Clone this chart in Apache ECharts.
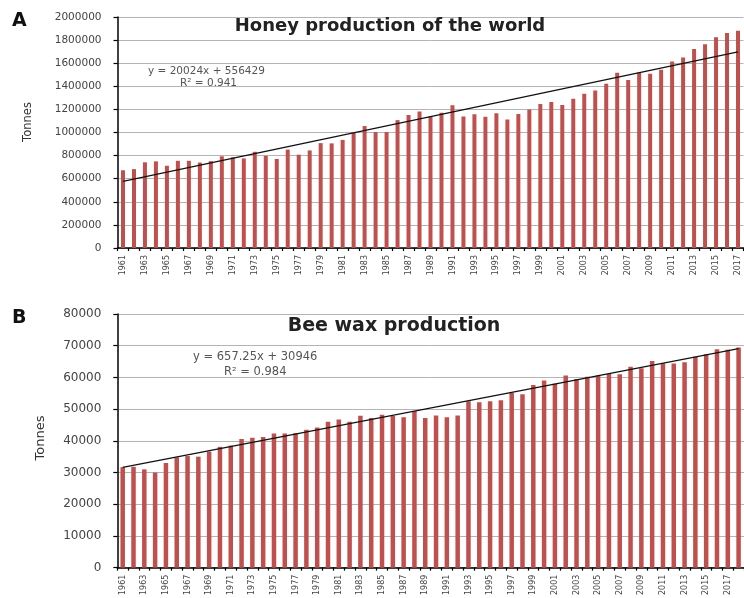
<!DOCTYPE html>
<html>
<head>
<meta charset="utf-8">
<script src="https://cdn.jsdelivr.net/npm/echarts@6/dist/echarts.min.js"></script>
<style>
html,body{margin:0;padding:0;background:#fff;}
#c{width:744px;height:598px;}
</style>
</head>
<body>
<div id="c"></div>
<script>
const honeyYears = ['1961','1962','1963','1964','1965','1966','1967','1968','1969','1970',
'1971','1972','1973','1974','1975','1976','1977','1978','1979','1980',
'1981','1982','1983','1984','1985','1986','1987','1988','1989','1990',
'1991','1992','1993','1994','1995','1996','1997','1998','1999','2000',
'2001','2002','2003','2004','2005','2006','2007','2008','2009','2010',
'2011','2012','2013','2014','2015','2016','2017'];
const waxYears = ['1961','1962','1963','1964','1965','1966','1967','1968','1969','1970',
'1971','1972','1973','1974','1975','1976','1977','1978','1979','1980',
'1981','1982','1983','1984','1985','1986','1987','1988','1989','1990',
'1991','1992','1993','1994','1995','1996','1997','1998','1999','2000',
'2001','2002','2003','2004','2005','2006','2007','2008','2009','2010',
'2011','2012','2013','2014','2015','2016','2017','2018'];
const honeyValues = [673000,683000,742000,750000,712000,755000,755000,740000,752000,794000,
785000,776000,833000,798000,771000,852000,808000,845000,908000,906000,
936000,998000,1056000,1004000,1004000,1107000,1151000,1181000,1139000,1171000,
1237000,1138000,1158000,1136000,1166000,1112000,1160000,1199000,1247000,1264000,
1238000,1293000,1336000,1363000,1422000,1518000,1454000,1518000,1509000,1544000,
1615000,1649000,1722000,1765000,1824000,1861000,1882000];
const waxValues = [31700,31800,31000,30000,33000,34800,35200,35000,36600,38100,
38500,40600,41000,41200,42300,42300,42400,43500,44200,46000,
46700,46000,47900,47200,48200,47800,47400,49400,47200,48000,
47400,48000,52500,52200,52500,52800,55100,54700,57600,59000,
58000,60600,59500,60200,60600,61100,61000,63400,62900,65200,
64500,64400,64800,66500,67300,68900,68700,69400];
// trend line end values (first and last category)
const honeyTrend = [576453, 1697773];
const waxTrend = [31603, 69067];
const honeyTicks = {min:0, max:2000000, interval:200000};
const waxTicks = {min:0, max:80000, interval:10000};

function trendData(cats, ends){
  const d = cats.map(() => null);
  d[0] = ends[0];
  d[cats.length-1] = ends[1];
  return d;
}

const chart = echarts.init(document.getElementById('c'));
const font = 'DejaVu Sans';
const barColor = '#c0504d';
function xAx(idx, cats){
  return {
    type:'category', gridIndex:idx, data:cats, boundaryGap:true,
    axisLine:{lineStyle:{color:'#000', width:1.5}},
    axisTick:{show:true, interval:0, length:3, lineStyle:{color:'#000', width:1.2}},
    axisLabel:{interval:1, rotate:90, fontSize:8, fontFamily:font, color:'#444', margin:7},
    splitLine:{show:false}
  };
}
function yAx(idx, t, fs, name){
  return {
    type:'value', gridIndex:idx, min:t.min, max:t.max, interval:t.interval,
    axisLine:{show:true, lineStyle:{color:'#000', width:1.5}},
    axisTick:{show:true, length:4, lineStyle:{color:'#000', width:1.2}},
    axisLabel:{fontSize:fs, fontFamily:font, color:'#444', margin:16, formatter:v=>String(v)},
    splitLine:{lineStyle:{color:'#b4b4b4', width:1}}
  };
}
chart.setOption({
  animation:false,
  backgroundColor:'#fff',
  grid:[
    {left:117.5, top:17, right:0.5, bottom:350},
    {left:117.3, top:314, right:-5, bottom:29}
  ],
  xAxis:[xAx(0, honeyYears), xAx(1, waxYears)],
  yAxis:[yAx(0, honeyTicks, 10.5), yAx(1, waxTicks, 12)],
  series:[
    {type:'bar', xAxisIndex:0, yAxisIndex:0, data:honeyValues, barWidth:4, itemStyle:{color:barColor}},
    {type:'line', xAxisIndex:0, yAxisIndex:0, data:trendData(honeyYears, honeyTrend), connectNulls:true, symbol:'none', lineStyle:{color:'#111', width:1.3}, z:5},
    {type:'bar', xAxisIndex:1, yAxisIndex:1, data:waxValues, barWidth:4.5, itemStyle:{color:barColor}},
    {type:'line', xAxisIndex:1, yAxisIndex:1, data:trendData(waxYears, waxTrend), connectNulls:true, symbol:'none', lineStyle:{color:'#111', width:1.3}, z:5}
  ],
  graphic:[
    {type:'text', left:12, top:12, style:{text:'A', font:'bold 19px "DejaVu Sans"', fill:'#111'}},
    {type:'text', left:12, top:309, style:{text:'B', font:'bold 19px "DejaVu Sans"', fill:'#111'}},
    {type:'text', x:390, y:26, style:{text:'Honey production of the world', font:'bold 18px "DejaVu Sans"', fill:'#222', align:'center', verticalAlign:'middle'}, z:10},
    {type:'text', x:394, y:326, style:{text:'Bee wax production', font:'bold 19px "DejaVu Sans"', fill:'#222', align:'center', verticalAlign:'middle'}, z:10},
    {type:'text', x:148, y:71, style:{text:'y = 20024x + 556429', font:'10.5px "DejaVu Sans"', fill:'#555', verticalAlign:'middle'}, z:10},
    {type:'text', x:180, y:83, style:{text:'R² = 0.941', font:'10.5px "DejaVu Sans"', fill:'#555', verticalAlign:'middle'}, z:10},
    {type:'text', x:193, y:357, style:{text:'y = 657.25x + 30946', font:'11.5px "DejaVu Sans"', fill:'#555', verticalAlign:'middle'}, z:10},
    {type:'text', x:224, y:372, style:{text:'R² = 0.984', font:'11.5px "DejaVu Sans"', fill:'#555', verticalAlign:'middle'}, z:10},
    {type:'text', x:28, y:122, rotation:Math.PI/2, style:{text:'Tonnes', font:'11.5px "DejaVu Sans"', fill:'#333', align:'center', verticalAlign:'middle'}},
    {type:'text', x:41, y:438, rotation:Math.PI/2, style:{text:'Tonnes', font:'13px "DejaVu Sans"', fill:'#333', align:'center', verticalAlign:'middle'}}
  ]
});
</script>
</body>
</html>
